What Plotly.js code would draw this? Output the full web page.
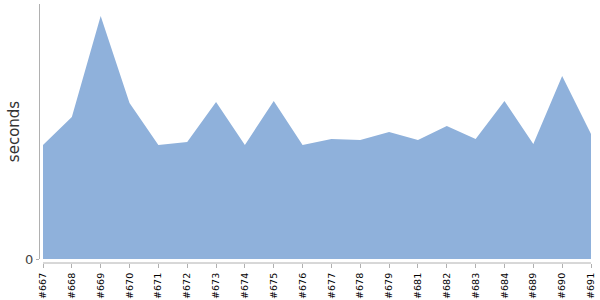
<!DOCTYPE html>
<html>
<head>
<meta charset="utf-8">
<script src="https://cdn.plot.ly/plotly-3.0.1.min.js"></script>
<style>html,body{margin:0;padding:0;background:#fff;}#chart{width:600px;height:300px;}</style>
</head>
<body>
<div id="chart"></div>
<script>
const builds = ["#667","#668","#669","#670","#671","#672","#673","#674","#675","#676","#677","#678","#679","#681","#682","#683","#684","#689","#690","#691"];
const seconds = [114,142,243,156,114,117,157,114,158,114,120,119,127,119,133,120,158,115,183,125];
const yTickVals = [0];
const yTickText = ["0"];

const trace = {
  x: builds,
  y: seconds,
  type: "scatter",
  mode: "none",
  fill: "tozeroy",
  fillcolor: "#8fb1db",
  hoverinfo: "skip"
};

const layout = {
  width: 600,
  height: 300,
  margin: {l: 40, r: 9, t: 4, b: 37, pad: 0},
  paper_bgcolor: "#ffffff",
  plot_bgcolor: "#ffffff",
  showlegend: false,
  font: {family: "DejaVu Sans, Verdana, sans-serif"},
  xaxis: {
    type: "category",
    range: [-0.104, 19],
    anchor: "free",
    position: 0,
    showgrid: false,
    zeroline: false,
    showline: false,
    ticks: "outside",
    ticklen: 4,
    tickcolor: "#b0b0b0",
    tickangle: -90,
    ticklabelstandoff: 1,
    tickfont: {size: 9.5, color: "#000000"}
  },
  yaxis: {
    domain: [0.0154, 1],
    range: [0, 255],
    showgrid: false,
    zeroline: false,
    showline: true,
    linecolor: "#b0b0b0",
    linewidth: 1,
    ticks: "outside",
    ticklen: 3,
    tickcolor: "#b0b0b0",
    tickvals: yTickVals,
    ticktext: yTickText,
    tickfont: {size: 13, color: "#444444"},
    title: {text: "seconds", font: {size: 15, color: "#333333"}, standoff: 1}
  },
  shapes: [{
    type: "line",
    xref: "x",
    yref: "paper",
    x0: 0, x1: 19,
    y0: 0, y1: 0,
    line: {color: "#b0b0b0", width: 1}
  }]
};

Plotly.newPlot("chart", [trace], layout, {staticPlot: true, displayModeBar: false});
</script>
</body>
</html>
